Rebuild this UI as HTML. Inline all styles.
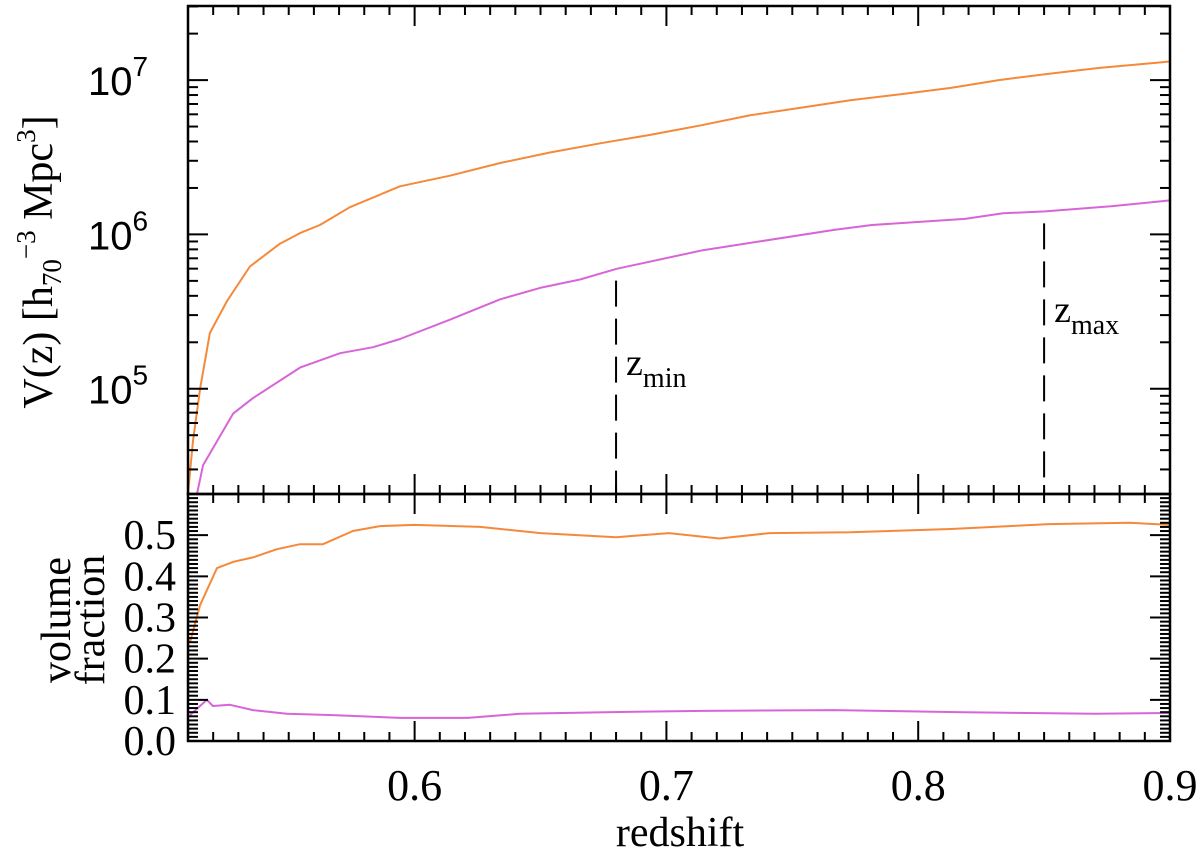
<!DOCTYPE html>
<html><head><meta charset="utf-8"><style>
html,body{margin:0;padding:0;background:#fff;}
svg{display:block;}
</style></head><body>
<svg id="chart" width="1200" height="856" viewBox="0 0 1200 856" xmlns="http://www.w3.org/2000/svg">
<g id="top-panel"></g>
<g id="bottom-panel"></g>
<g id="labels">
<text transform="translate(52,262) rotate(-90)" text-anchor="middle" font-family="Liberation Serif, serif" font-size="42">V(z)  [h<tspan font-size="27" dy="9">70</tspan><tspan font-size="27" dy="-26">−3</tspan><tspan dy="17">  Mpc</tspan><tspan font-size="27" dy="-17">3</tspan><tspan dy="17">]</tspan></text>
<text transform="translate(70,620) rotate(-90)" text-anchor="middle" font-family="Liberation Serif, serif" font-size="42">volume</text>
<text transform="translate(104,620) rotate(-90)" text-anchor="middle" font-family="Liberation Serif, serif" font-size="42">fraction</text>
<text x="680" y="846" text-anchor="middle" font-family="Liberation Serif, serif" font-size="42">redshift</text>
</g>
</svg>
<script>
const NS='http://www.w3.org/2000/svg';
// data
const vZ=[0.510,0.512,0.5148,0.5187,0.5255,0.5346,0.5465,0.5545,0.5624,0.5743,0.5942,0.614,0.634,0.654,0.674,0.693,0.714,0.733,0.753,0.773,0.793,0.813,0.832,0.852,0.872,0.900];
const vTotal=[2.1e4,4.6e4,1.0e5,2.3e5,3.7e5,6.2e5,8.7e5,1.02e6,1.15e6,1.5e6,2.05e6,2.4e6,2.9e6,3.4e6,3.9e6,4.4e6,5.1e6,5.9e6,6.6e6,7.4e6,8.1e6,8.9e6,1.0e7,1.1e7,1.2e7,1.32e7];
const vSubZ=[0.5136,0.516,0.5279,0.5358,0.5545,0.5704,0.5835,0.5942,0.614,0.634,0.6498,0.6657,0.6804,0.7145,0.7666,0.7816,0.8186,0.8337,0.8504,0.8766,0.900];
const vSub=[2.1e4,3.2e4,6.9e4,8.7e4,1.37e5,1.7e5,1.86e5,2.1e5,2.8e5,3.8e5,4.5e5,5.1e5,6.0e5,7.9e5,1.07e6,1.15e6,1.26e6,1.37e6,1.41e6,1.52e6,1.66e6];
const fOrZ=[0.5108,0.5148,0.5215,0.5279,0.5358,0.5453,0.5545,0.5636,0.5755,0.5862,0.600,0.626,0.650,0.680,0.701,0.721,0.741,0.773,0.813,0.852,0.884,0.900];
const fOr=[0.24,0.33,0.42,0.435,0.446,0.466,0.478,0.478,0.51,0.522,0.525,0.52,0.505,0.495,0.505,0.492,0.505,0.507,0.515,0.527,0.53,0.525];
const fPuZ=[0.5108,0.5175,0.5199,0.5267,0.5358,0.5493,0.5676,0.5942,0.6212,0.6418,0.6756,0.7145,0.7666,0.8182,0.8702,0.900];
const fPu=[0.063,0.10,0.085,0.088,0.075,0.066,0.063,0.056,0.056,0.066,0.07,0.073,0.075,0.07,0.066,0.068];
const xTicks=[0.6,0.7,0.8,0.9];
const xTickLabels=['0.6','0.7','0.8','0.9'];
const yTopDecades=[5,6,7];
const yBotTicks=[0.0,0.1,0.2,0.3,0.4,0.5];
const yBotLabels=['0.0','0.1','0.2','0.3','0.4','0.5'];
const zMarkers=[0.680,0.850];
const zMarkerVals=[6.0e5,1.41e6];
const zMarkerLabels=['min','max'];

const L=188,R=1170,T1=6,B1=494,T2=494,B2=741;
const X0=0.51,X1=0.9, LY0=4.318, LY1=7.48, F0=0, F1=0.6;
const sx=z=>L+(z-X0)/(X1-X0)*(R-L);
const sy=v=>B1-(Math.log10(v)-LY0)/(LY1-LY0)*(B1-T1);
const sf=f=>B2-(f-F0)/(F1-F0)*(B2-T2);
const pTop=document.getElementById('top-panel'),pBot=document.getElementById('bottom-panel'),pLab=document.getElementById('labels');
function mk(tag,at,parent){const e=document.createElementNS(NS,tag);for(const k in at)e.setAttribute(k,at[k]);parent.appendChild(e);return e;}
function line(p,x1,y1,x2,y2,name){const e=mk('line',{x1,y1,x2,y2,stroke:'#000','stroke-width':2},p);

return e;}

const defs=mk('defs',{},document.getElementById('chart'));
const c1=mk('clipPath',{id:'c1'},defs);mk('rect',{x:L,y:T1,width:R-L,height:B1-T1},c1);
const c2=mk('clipPath',{id:'c2'},defs);mk('rect',{x:L,y:T2,width:R-L,height:B2-T2},c2);

function curve(p,xs,ys,fy,color,name,clip){
  const d=xs.map((z,i)=>(i?'L':'M')+sx(z).toFixed(1)+' '+fy(ys[i]).toFixed(1)).join(' ');
  const e=mk('path',{d,fill:'none',stroke:color,'stroke-width':2,'stroke-linejoin':'round','clip-path':'url(#'+clip+')'},p);
  
  
}
curve(pTop,vZ,vTotal,sy,'#f5893a','total-volume-line','c1');
curve(pTop,vSubZ,vSub,sy,'#d865d8','subsample-volume-line','c1');
curve(pBot,fOrZ,fOr,sf,'#f5893a','total-fraction-line','c2');
curve(pBot,fPuZ,fPu,sf,'#d865d8','subsample-fraction-line','c2');

zMarkers.forEach((z,i)=>{
  const e=mk('line',{x1:sx(z),x2:sx(z),y1:sy(zMarkerVals[i])+12,y2:B1,stroke:'#000','stroke-width':2,'stroke-dasharray':'26,12'},pTop);
  
  
  const t=mk('text',{x:sx(z)+10,y:i===0?375:322,'font-family':'Liberation Serif, serif','font-size':38},pLab);
  
  
  t.innerHTML='z<tspan font-size="28" dy="12">'+zMarkerLabels[i]+'</tspan>';
});

[[pTop,T1,B1],[pBot,T2,B2]].forEach(([p,t,b],i)=>{
  const r=mk('rect',{x:L,y:t,width:R-L,height:b-t,fill:'none',stroke:'#000','stroke-width':2.5},p);
  
  
});

for(let k=51;k<=90;k++){
  const x=sx(k/100),len=(k%10===0)?20:9;
  line(pTop,x,T1,x,T1+len,'x-tick');
  line(pTop,x,B1,x,B1-len,'x-tick');
  line(pBot,x,T2,x,T2+len,'x-tick');
  line(pBot,x,B2,x,B2-len,'x-tick');
}
xTicks.forEach((z,i)=>{
  const t=mk('text',{x:sx(z),y:800,'text-anchor':'middle','font-family':'Liberation Serif, serif','font-size':44},pLab);
  
  
  t.textContent=xTickLabels[i];
});

for(let d=4;d<=7;d++){for(let m=1;m<=9;m++){
  const v=m*Math.pow(10,d);const y=sy(v);if(y<T1||y>B1)continue;
  const len=m===1?20:10;
  line(pTop,L,y,L+len,y,'y-tick-top');line(pTop,R,y,R-len,y,'y-tick-top');
}}
yTopDecades.forEach(d=>{
  const t=mk('text',{x:118,y:sy(Math.pow(10,d))+15,'text-anchor':'middle','font-family':'Liberation Sans, sans-serif','font-size':40},pLab);
  
  
  t.innerHTML='10<tspan font-size="28" dy="-19">'+d+'</tspan>';
});

for(let k=0;k<=60;k++){
  const y=sf(k/100),len=(k%10===0)?20:10;
  line(pBot,L,y,L+len,y,'y-tick-bottom');line(pBot,R,y,R-len,y,'y-tick-bottom');
}
yBotTicks.forEach((f,i)=>{
  const t=mk('text',{x:176,y:sf(f)+14,'text-anchor':'end','font-family':'Liberation Serif, serif','font-size':42},pLab);
  
  
  t.textContent=yBotLabels[i];
});
</script>
</body></html>
